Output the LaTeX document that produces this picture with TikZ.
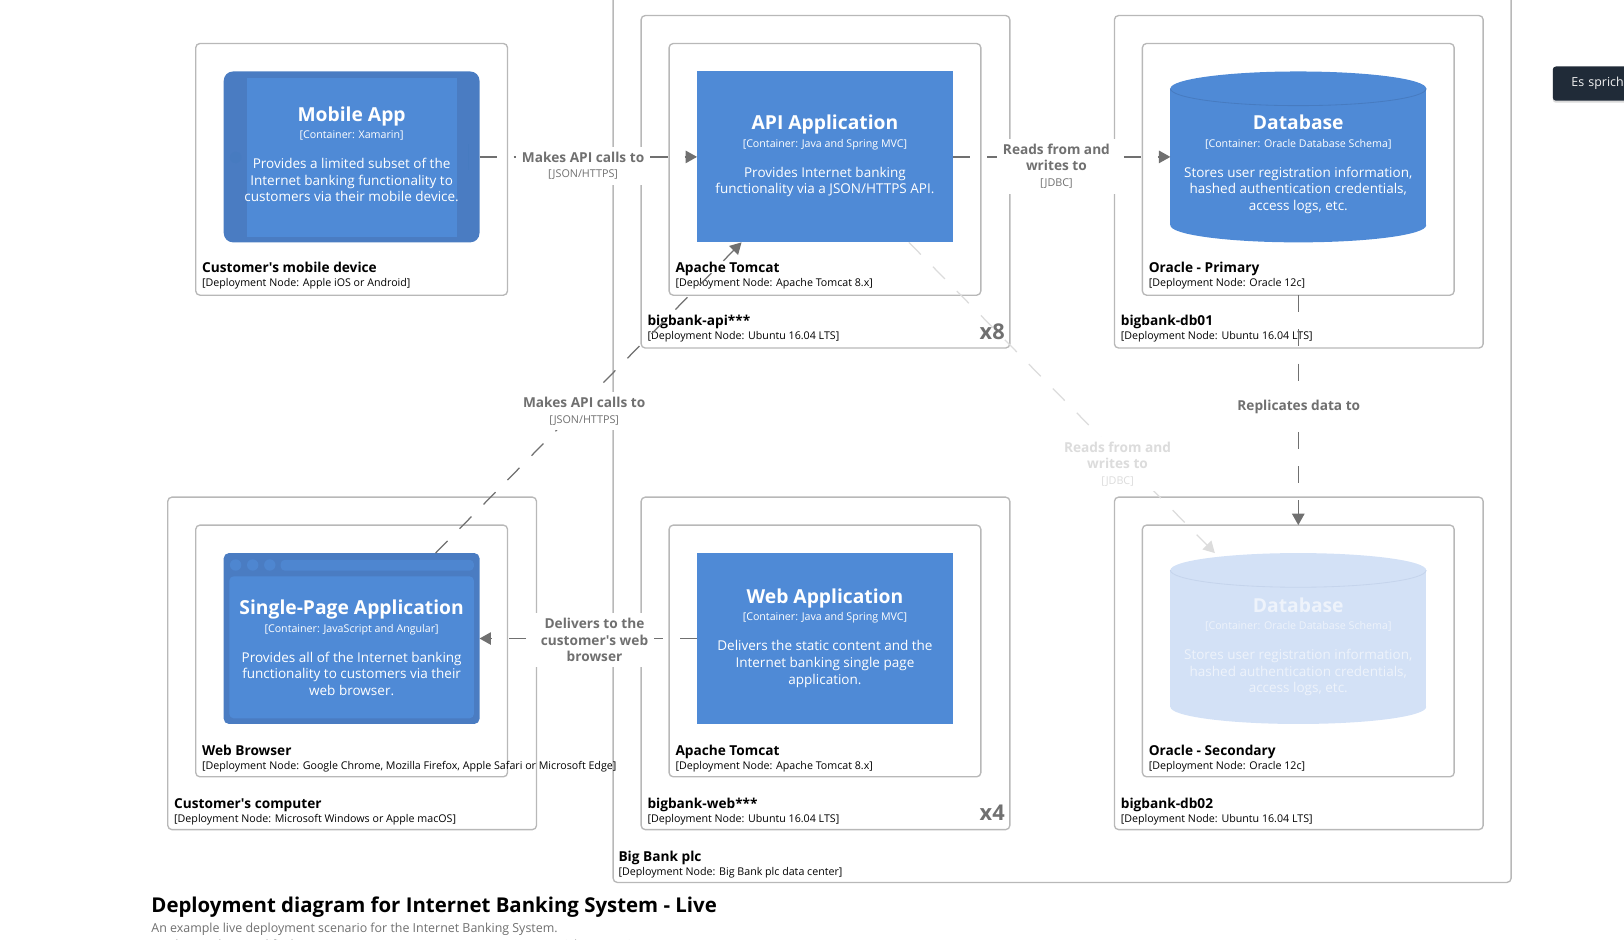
\documentclass[tikz,border=0pt]{standalone}
\usepackage{fontspec}
\setmainfont{Open Sans}
\usetikzlibrary{positioning,arrows.meta,shadows}
\definecolor{blue}{HTML}{4F8AD6}
\definecolor{darkblue}{HTML}{4A7CC2}
\definecolor{rimblue}{HTML}{477BC0}
\definecolor{paleblue}{HTML}{D3E1F6}
\definecolor{rimpale}{HTML}{C5D4EC}
\definecolor{palewhite}{HTML}{EEF3FB}
\definecolor{boxgray}{HTML}{B8B8B8}
\definecolor{linegray}{HTML}{707070}
\definecolor{palegray}{HTML}{DCDCDC}
\definecolor{tipdark}{HTML}{202B38}
\newcommand{\boxtext}[3]{{\fontsize{18.6}{18}\selectfont\bfseries #1}\\[1pt]{\fontsize{10.3}{11}\selectfont #2}\\[13pt]#3}
\newcommand{\deptext}[2]{{\fontsize{13.2}{14}\selectfont\bfseries #1}\\[-2pt]{\fontsize{10.3}{11}\selectfont #2}}
\newcommand{\lbltext}[2]{{\bfseries #1}\\[-1pt]{\fontsize{10.4}{11}\selectfont #2}}
\newcommand{\cylshape}[3]{%
  \begin{scope}[shift={(#1.center)}]
    \fill[#2] (0,-66) ellipse [x radius=123.5,y radius=16.5];
    \fill[#2] (0,66) ellipse [x radius=123.5,y radius=16.5];
    \fill[#2] (-123.5,-66) rectangle (123.5,66);
    \draw[#3,line width=.8pt] (-123.5,-66) arc [start angle=180,end angle=0,x radius=123.5,y radius=16.5];
  \end{scope}}
\tikzset{
  deploy/.style={draw=boxgray,line width=1.3pt,rounded corners=4pt,anchor=north west,inner sep=0pt,outer sep=0pt},
  deplabel/.style={align=left,inner sep=0pt,text=black,font=\fontsize{14}{15}\selectfont},
  cont/.style={anchor=north west,minimum width=247pt,minimum height=165pt,inner sep=0pt,outer sep=0pt},
  conttext/.style={inner sep=0pt,align=center,text=white,font=\fontsize{13.05}{16}\selectfont},
  conn/.style={draw=linegray,line width=1.2pt,dash pattern=on 16.5pt off 16.5pt,-{Triangle[length=11pt,width=12pt]}},
  lbl/.style={fill=white,inner xsep=6pt,inner ysep=5pt,align=center,text=linegray,font=\fontsize{13.2}{16}\selectfont},
  count/.style={text=linegray,inner sep=0pt,font=\fontsize{21}{21}\selectfont\bfseries},
}
\begin{document}
\begin{tikzpicture}[x=1pt,y=-1pt]
    \useasboundingbox (0,0) rectangle (1568,907);
    \clip (0,0) rectangle (1568,907);
    % deployment nodes
    \node[deploy,minimum width=867pt,minimum height=872pt] (bigbank) at (592,-20) {};
    \node[deploy,minimum width=301pt,minimum height=243pt] (mobiledev) at (189,42) {};
    \node[deploy,minimum width=356pt,minimum height=321pt] (apihost) at (619,15) {};
    \node[deploy,minimum width=301pt,minimum height=243pt] (apitomcat) at (646,42) {};
    \node[deploy,minimum width=356pt,minimum height=321pt] (dbhosta) at (1076,15) {};
    \node[deploy,minimum width=301pt,minimum height=243pt] (oraclea) at (1103,42) {};
    \node[deploy,minimum width=356pt,minimum height=321pt] (computer) at (162,480) {};
    \node[deploy,minimum width=301pt,minimum height=243pt] (webbrowser) at (189,507) {};
    \node[deploy,minimum width=356pt,minimum height=321pt] (webhost) at (619,480) {};
    \node[deploy,minimum width=301pt,minimum height=243pt] (webtomcat) at (646,507) {};
    \node[deploy,minimum width=356pt,minimum height=321pt] (dbhostb) at (1076,480) {};
    \node[deploy,minimum width=301pt,minimum height=243pt] (oracleb) at (1103,507) {};
    % their captions
    \node[deplabel] (bigbanktext) [above right=4.5pt and 5pt of bigbank.south west, anchor=south west] {\deptext{Big Bank plc}{[Deployment Node: Big Bank plc data center]}};
    \node[deplabel] (mobiledevtext) [above right=6pt and 6pt of mobiledev.south west, anchor=south west] {\deptext{Customer\textquotesingle s mobile device}{[Deployment Node: Apple iOS or Android]}};
    \node[deplabel] (apihosttext) [above right=6pt and 6pt of apihost.south west, anchor=south west] {\deptext{bigbank-api***}{[Deployment Node: Ubuntu 16.04 LTS]}};
    \node[deplabel] (apitomcattext) [above right=6pt and 6pt of apitomcat.south west, anchor=south west] {\deptext{Apache Tomcat}{[Deployment Node: Apache Tomcat 8.x]}};
    \node[deplabel] (dbhostatext) [above right=6pt and 6pt of dbhosta.south west, anchor=south west] {\deptext{bigbank-db01}{[Deployment Node: Ubuntu 16.04 LTS]}};
    \node[deplabel] (oracleatext) [above right=6pt and 6pt of oraclea.south west, anchor=south west] {\deptext{Oracle - Primary}{[Deployment Node: Oracle 12c]}};
    \node[deplabel] (computertext) [above right=4.5pt and 6pt of computer.south west, anchor=south west] {\deptext{Customer\textquotesingle s computer}{[Deployment Node: Microsoft Windows or Apple macOS]}};
    \node[deplabel] (webbrowsertext) [above right=4.5pt and 6pt of webbrowser.south west, anchor=south west] {\deptext{Web Browser}{[Deployment Node: Google Chrome, Mozilla Firefox, Apple Safari or Microsoft Edge]}};
    \node[deplabel] (webhosttext) [above right=4.5pt and 6pt of webhost.south west, anchor=south west] {\deptext{bigbank-web***}{[Deployment Node: Ubuntu 16.04 LTS]}};
    \node[deplabel] (webtomcattext) [above right=4.5pt and 6pt of webtomcat.south west, anchor=south west] {\deptext{Apache Tomcat}{[Deployment Node: Apache Tomcat 8.x]}};
    \node[deplabel] (dbhostbtext) [above right=4.5pt and 6pt of dbhostb.south west, anchor=south west] {\deptext{bigbank-db02}{[Deployment Node: Ubuntu 16.04 LTS]}};
    \node[deplabel] (oraclebtext) [above right=4.5pt and 6pt of oracleb.south west, anchor=south west] {\deptext{Oracle - Secondary}{[Deployment Node: Oracle 12c]}};
    \node[count] (apicount) at (958,320) {x8};
    \node[count] (webcount) at (958,785) {x4};
    % containers
    \node[cont,fill=darkblue,rounded corners=9pt] (mobileapp) at (216,69) {};
    \begin{scope}[shift={(mobileapp.center)}]
      \fill[blue] (-101.5,-76.5) rectangle (101.5,77);
      \fill[rimblue] (-112,0.5) circle (5.5);
      \fill[rimblue] (112,-12) rectangle (113,13);
    \end{scope}
    \node[cont,fill=blue] (apiapp) at (673,69) {};
    \node[cont] (dba) at (1130,69) {};
    \cylshape{dba}{blue}{rimblue}
    \node[cont,fill=darkblue,rounded corners=5pt] (spa) at (216,534) {};
    \begin{scope}[shift={(spa.center)}]
      \fill[blue,rounded corners=4pt] (-118,-60) rectangle (118,77);
      \foreach \xpos in {-112,-95.5,-79} \fill[blue!70!darkblue] (\xpos,-71) circle (5.5);
      \fill[blue!70!darkblue,rounded corners=4pt] (-68.5,-76) rectangle (118,-65.5);
    \end{scope}
    \node[cont,fill=blue] (webapp) at (673,534) {};
    \node[cont] (dbb) at (1130,534) {};
    \cylshape{dbb}{paleblue}{rimpale}
    \node[conttext] (mobiletext) at (339.5,149) {\boxtext{Mobile App}{[Container: Xamarin]}{Provides a limited subset of the\\Internet banking functionality to\\customers via their mobile device.}};
    \node[conttext] (apitext) at (796.5,150.5) {\boxtext{API Application}{[Container: Java and Spring MVC]}{Provides Internet banking\\functionality via a JSON/HTTPS API.}};
    \node[conttext] (dbatext) at (1253.5,158.5) {\boxtext{Database}{[Container: Oracle Database Schema]}{Stores user registration information,\\hashed authentication credentials,\\access logs, etc.}};
    \node[conttext] (spatext) at (339.5,625.5) {\boxtext{Single-Page Application}{[Container: JavaScript and Angular]}{Provides all of the Internet banking\\functionality to customers via their\\web browser.}};
    \node[conttext] (webtext) at (796.5,616) {\boxtext{Web Application}{[Container: Java and Spring MVC]}{Delivers the static content and the\\Internet banking single page\\application.}};
    \node[conttext,text=palewhite] (dbbtext) at (1253.5,624.5) {\boxtext{Database}{[Container: Oracle Database Schema]}{Stores user registration information,\\hashed authentication credentials,\\access logs, etc.}};
    % connectors
    \path
    (mobileapp) edge[conn] (apiapp)
    (spa) edge[conn] (apiapp)
    (apiapp) edge[conn] (dba)
    (apiapp) edge[conn,draw=palegray,-{Triangle[length=11pt,width=12pt,fill=palegray]}] (dbb)
    (webapp) edge[conn] (spa)
    (oraclea) edge[conn] (oracleb);
    % connector labels
    \node[lbl] (mobilelabel) at (563,160) {\lbltext{Makes API calls to}{[JSON/HTTPS]}};
    \node[lbl] (spalabel) at (564,397) {\lbltext{Makes API calls to}{[JSON/HTTPS]}};
    \node[lbl] (dbalabel) at (1020,160.5) {{\bfseries Reads from and}\\{\bfseries writes to}\\[-1pt]{\fontsize{10.4}{11}\selectfont [JDBC]}};
    \node[lbl,text=palegray] (dbblabel) at (1079,448) {{\bfseries Reads from and}\\{\bfseries writes to}\\[-1pt]{\fontsize{10.4}{11}\selectfont [JDBC]}};
    \node[lbl] (weblabel) at (574,618) {{\bfseries Delivers to the}\\{\bfseries customer\textquotesingle s web}\\{\bfseries browser}};
    \node[lbl] (replabel) at (1254,393) {{\bfseries Replicates data to}};
    % title block
    \node[anchor=base west,inner sep=0pt,font=\fontsize{19.7}{21}\selectfont\bfseries] (title) at (146,881) {Deployment diagram for Internet Banking System - Live};
    \node[anchor=base west,inner sep=0pt,text=linegray,font=\fontsize{12}{12}\selectfont] (subtitle) at (146,900.5) {An example live deployment scenario for the Internet Banking System.};
    \node[anchor=base west,inner sep=0pt,text=linegray,font=\fontsize{12}{12}\selectfont] (modified) at (146,917) {Workspace last modified: Tue Oct 30 2018 10:44:08 GMT+0000 (Greenwich Mean Time)};
    % tooltip cut by the edge
    \node[anchor=north west,fill=tipdark,rounded corners=3pt,minimum width=110pt,minimum height=33pt,inner sep=0pt,drop shadow={opacity=.3,shadow xshift=0pt,shadow yshift=-2pt},text=white!90!gray,font=\fontsize{12}{12}\selectfont,align=left,text width=110pt] (tooltip) at (1499,64) {\hspace*{18pt}\raisebox{-2pt}{Es sprich}};
\end{tikzpicture}
\end{document}
